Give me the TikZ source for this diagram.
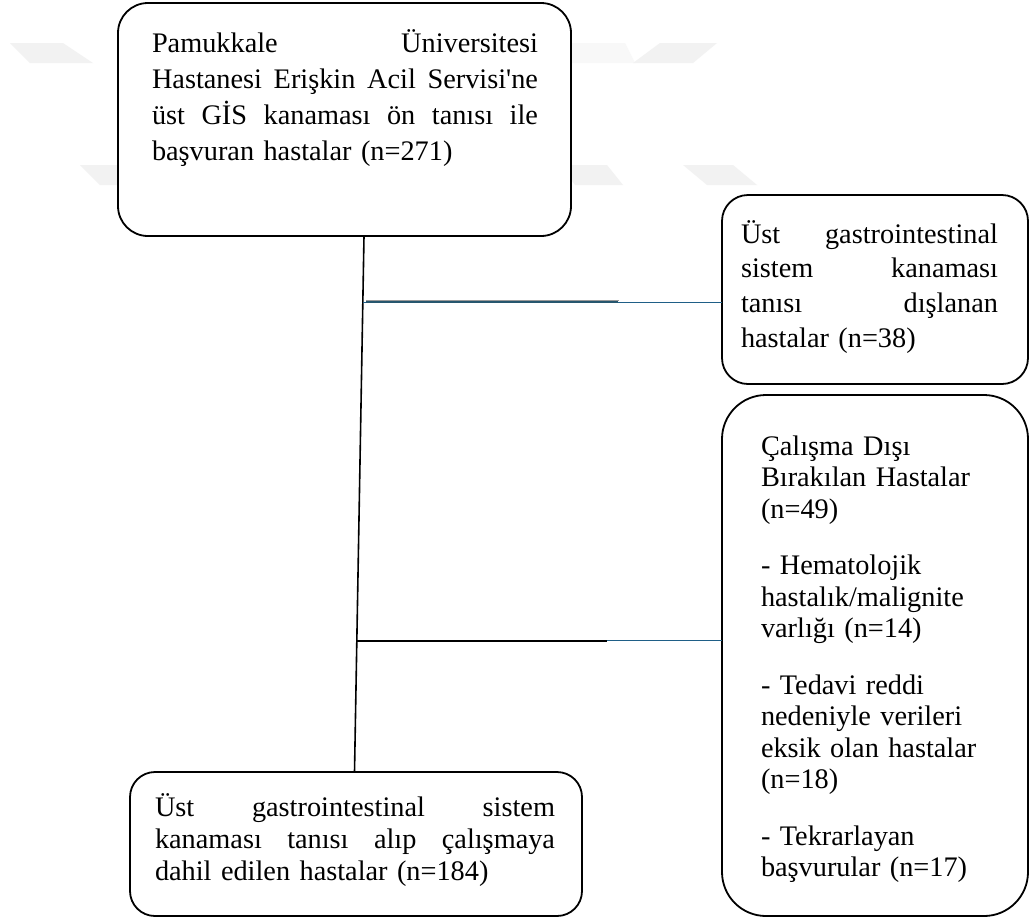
\documentclass[tikz,border=0pt]{standalone}
\usepackage{fontspec}
\newfontfamily\tnr{Liberation Serif}
\usetikzlibrary{calc}
\definecolor{lineblue}{RGB}{31,95,135}
\definecolor{darkblue}{RGB}{38,86,110}
\definecolor{wm}{RGB}{242,242,242}
\definecolor{wmlight}{RGB}{248,248,248}
\newcommand{\jline}[2]{\leavevmode\hbox to #1{#2}}
\begin{document}
\begin{tikzpicture}[x=1pt,y=-1pt,
  box/.style={draw, line width=1.8pt, fill=white, inner sep=0pt, outer sep=0pt},
  txt/.style={inner sep=0pt, outer sep=0pt, anchor=base west, align=left},
  fa/.style={font=\tnr\fontsize{28.3}{36}\selectfont},
  fb/.style={font=\tnr\fontsize{28.3}{34.7}\selectfont},
  fc/.style={font=\tnr\fontsize{28.3}{32}\selectfont},
  fd/.style={font=\tnr\fontsize{28.3}{31.5}\selectfont},
  wmark/.style={fill=wm, draw=none},
  conn/.style={line width=1.6pt, black}]

\fill[white] (0,0) rectangle (1035,919);
\useasboundingbox (0,0) rectangle (1035,919);

% faint watermark shapes
\fill[wmark] (10,43) -- (63,43) -- (93,63) -- (30,63) -- cycle;
\fill[wmlight] (571,43) -- (625,43) -- (635,63) -- (571,63) -- cycle;
\fill[wmark] (660,43) -- (717,43) -- (693,63) -- (633,63) -- cycle;
\fill[wmark] (80,165) -- (140,165) -- (160,185) -- (100,185) -- cycle;
\fill[wmark] (560,165) -- (607,165) -- (623,185) -- (575,185) -- cycle;
\fill[wmark] (683,165) -- (733,165) -- (757,185) -- (707,185) -- cycle;

% boxes
\node[box, rounded corners=30pt, minimum width=453pt, minimum height=233pt] (b1) at (344.5,119.5) {};
\node[box, rounded corners=26pt, minimum width=306pt, minimum height=189pt] (b2) at (875,289.5) {};
\node[box, rounded corners=44pt, minimum width=306pt, minimum height=521pt] (b3) at (875,655.5) {};
\node[box, rounded corners=25pt, minimum width=452pt, minimum height=144pt] (b4) at (356,844) {};

% texts
\node[txt, fa, text width=390pt] (t1) at (152,52) {%
\jline{386pt}{Pamukkale\hfill Üniversitesi}\\
\jline{386pt}{Hastanesi\hfill Erişkin\hfill Acil\hfill Servisi'ne}\\
\jline{386pt}{üst\hfill GİS\hfill kanaması\hfill ön\hfill tanısı\hfill ile}\\
başvuran hastalar (n=271)};

\node[txt, fb, text width=260pt] (t2) at (741,243) {%
\jline{257pt}{Üst\hfill gastrointestinal}\\
\jline{257pt}{sistem\hfill kanaması}\\
\jline{257pt}{tanısı\hfill dışlanan}\\
hastalar (n=38)};

\node[txt, fd, text width=262pt] (t3) at (761,455) {%
Çalışma Dışı\\
Bırakılan Hastalar\\
(n=49)\\[25pt]
- Hematolojik\\
hastalık/malignite\\
varlığı (n=14)\\[25pt]
- Tedavi reddi\\
nedeniyle verileri\\
eksik olan hastalar\\
(n=18)\\[25pt]
- Tekrarlayan\\
başvurular (n=17)};

\node[txt, fc, text width=405pt] (t4) at (155,816) {%
\jline{400pt}{Üst\hfill gastrointestinal\hfill sistem}\\
\jline{400pt}{kanaması\hfill tanısı\hfill alıp\hfill çalışmaya}\\
dahil edilen hastalar (n=184)};

% connectors
\draw[conn] ([xshift=19.5pt]b1.south) -- ([xshift=-1.5pt]b4.north);

\coordinate (j1) at (363,302);
\draw[lineblue, line width=1pt] (j1) -- (j1 -| b2.west);
\draw[black!40, line width=1pt] ([shift={(3,-1.3)}]j1) -- ++(253,0);
\draw[darkblue, line width=1.6pt] ([xshift=3pt]j1) -- ++(252,0);

\coordinate (j2) at (357,641);
\draw[lineblue, line width=1pt] ([yshift=1pt]j2) -- ([yshift=1pt]j2 -| b3.west);
\draw[black, line width=2pt] (j2) -- ++(250,0);
\end{tikzpicture}
\end{document}
